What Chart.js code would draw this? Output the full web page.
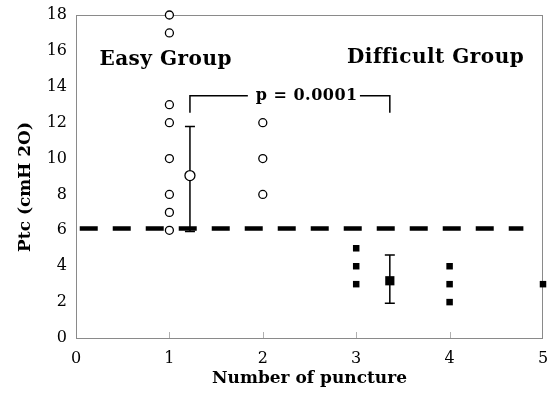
<!DOCTYPE html>
<html>
<head>
<meta charset="utf-8">
<script src="https://cdn.jsdelivr.net/npm/chart.js@4"></script>
<style>
  html, body { margin: 0; padding: 0; background: #fff; }
  #wrap { width: 550px; height: 393px; }
</style>
</head>
<body>
<div id="wrap"><canvas id="chart"></canvas></div>
<script>
// Easy group: individual punctures (x = number of puncture)
const easyX = [1, 1, 1, 1, 1, 1, 1, 1, 2, 2, 2];
const easyY = [18, 17, 13, 12, 10, 8, 7, 6, 12, 10, 8];

// Difficult group
const hardX = [3, 3, 3, 4, 4, 4, 5];
const hardY = [5, 4, 3, 4, 3, 2, 3];

// group means with SD bars
const easyMean = { x: 1.22, y: 9.05, lo: 5.93, hi: 11.78 };
const hardMean = { x: 3.36, y: 3.19, lo: 1.93, hi: 4.63 };

// cut-off line
const cutoff = 6.1;
const cutoffFrom = 0.04;
const cutoffTo = 4.79;

// significance bracket
const bracketLow = 12.55;
const bracketHigh = 13.5;
const pLabel = "p = 0.0001";

const xTicks = [0, 1, 2, 3, 4, 5];
const yTicks = [0, 2, 4, 6, 8, 10, 12, 14, 16, 18];

const serif = "'DejaVu Serif', serif";

const toPoints = (xs, ys) => xs.map((x, i) => ({ x: x, y: ys[i] }));

const extras = {
  id: "extras",
  beforeDatasetsDraw(chart) {
    const { ctx, chartArea: a } = chart;
    const xs = chart.scales.x, ys = chart.scales.y;
    ctx.save();
    ctx.strokeStyle = "#8a8a8a";
    ctx.lineWidth = 1;
    ctx.strokeRect(a.left + 0.5, a.top + 0.5, a.right - a.left - 1, a.bottom - a.top);
    // small inward tick marks on x axis
    ctx.strokeStyle = "#b0b0b0";
    xTicks.slice(1, -1).forEach((v) => {
      const px = Math.round(xs.getPixelForValue(v)) + 0.5;
      ctx.beginPath();
      ctx.moveTo(px, a.bottom);
      ctx.lineTo(px, a.bottom - 6);
      ctx.stroke();
    });
    // error bars (under the mean markers)
    ctx.strokeStyle = "#000";
    ctx.lineWidth = 1.5;
    [easyMean, hardMean].forEach((m) => {
      const px = xs.getPixelForValue(m.x);
      const top = ys.getPixelForValue(m.hi), bot = ys.getPixelForValue(m.lo);
      ctx.beginPath();
      ctx.moveTo(px, top); ctx.lineTo(px, bot);
      ctx.moveTo(px - 5, top); ctx.lineTo(px + 5, top);
      ctx.moveTo(px - 5, bot); ctx.lineTo(px + 5, bot);
      ctx.stroke();
    });
    // y axis title
    ctx.fillStyle = "#000";
    ctx.font = "bold 17px " + serif;
    ctx.textAlign = "center";
    ctx.textBaseline = "middle";
    ctx.translate(26, 187);
    ctx.rotate(-Math.PI / 2);
    ctx.fillText("Ptc (cmH 2O)", 0, 0);
    ctx.restore();
  },
  afterDatasetsDraw(chart) {
    const { ctx } = chart;
    const xs = chart.scales.x, ys = chart.scales.y;
    ctx.save();
    ctx.fillStyle = "#000";
    ctx.textAlign = "center";
    ctx.textBaseline = "middle";
    ctx.letterSpacing = "0.5px";
    ctx.font = "bold 20px " + serif;
    ctx.fillText("Easy Group", xs.getPixelForValue(0.96), ys.getPixelForValue(15.5));
    ctx.fillText("Difficult Group", xs.getPixelForValue(3.85), ys.getPixelForValue(15.6));
    ctx.font = "bold 16px " + serif;
    ctx.fillText(pLabel, xs.getPixelForValue(2.47), ys.getPixelForValue(bracketHigh));
    ctx.restore();
  },
};

new Chart("chart", {
  type: "scatter",
  data: {
    datasets: [
      {
        data: [{ x: cutoffFrom, y: cutoff }, { x: cutoffTo, y: cutoff }],
        showLine: true,
        borderColor: "#000",
        borderWidth: 4.5,
        borderDash: [18, 15],
        pointRadius: 0,
      },
      {
        data: [{ x: easyMean.x, y: bracketLow }, { x: easyMean.x, y: bracketHigh }, { x: 1.84, y: bracketHigh }],
        showLine: true,
        borderColor: "#000",
        borderWidth: 1.5,
        pointRadius: 0,
      },
      {
        data: [{ x: 3.04, y: bracketHigh }, { x: hardMean.x, y: bracketHigh }, { x: hardMean.x, y: bracketLow }],
        showLine: true,
        borderColor: "#000",
        borderWidth: 1.5,
        pointRadius: 0,
      },
      {
        data: toPoints(easyX, easyY),
        pointStyle: "circle",
        pointRadius: 4,
        backgroundColor: "#fff",
        borderColor: "#000",
        borderWidth: 1.3,
        clip: false,
      },
      {
        data: toPoints(hardX, hardY),
        pointStyle: "rect",
        pointRadius: 4.6,
        backgroundColor: "#000",
        borderColor: "#000",
        borderWidth: 0,
        clip: false,
      },
      {
        data: [{ x: easyMean.x, y: easyMean.y }],
        pointStyle: "circle",
        pointRadius: 5,
        backgroundColor: "#fff",
        borderColor: "#000",
        borderWidth: 1.3,
        clip: false,
      },
      {
        data: [{ x: hardMean.x, y: hardMean.y }],
        pointStyle: "rect",
        pointRadius: 6.5,
        backgroundColor: "#000",
        borderWidth: 0,
        clip: false,
      },
    ],
  },
  options: {
    responsive: true,
    maintainAspectRatio: false,
    animation: false,
    layout: { padding: { top: 15, right: 7, left: 0, bottom: 0 } },
    plugins: {
      legend: { display: false },
      tooltip: { enabled: false },
    },
    scales: {
      x: {
        type: "linear",
        min: 0,
        max: 5,
        afterBuildTicks: (s) => { s.ticks = xTicks.map((v) => ({ value: v })); },
        afterFit: (s) => { s.height = 55; s.paddingLeft = 0; s.paddingRight = 0; },
        grid: { display: false, drawTicks: false },
        border: { display: false },
        ticks: { color: "#000", padding: 11, font: { family: serif, size: 16 } },
        title: {
          display: true,
          text: "Number of puncture",
          color: "#000",
          padding: { top: 0 },
          font: { family: serif, size: 17, weight: "bold" },
        },
      },
      y: {
        type: "linear",
        min: 0,
        max: 18,
        afterBuildTicks: (s) => { s.ticks = yTicks.map((v) => ({ value: v })); },
        afterFit: (s) => { s.width = 76; s.paddingTop = 0; s.paddingBottom = 0; },
        grid: { display: false, drawTicks: false },
        border: { display: false },
        ticks: { color: "#000", padding: 9, font: { family: serif, size: 16 } },
        title: { display: false },
      },
    },
  },
  plugins: [extras],
});
</script>
</body>
</html>
